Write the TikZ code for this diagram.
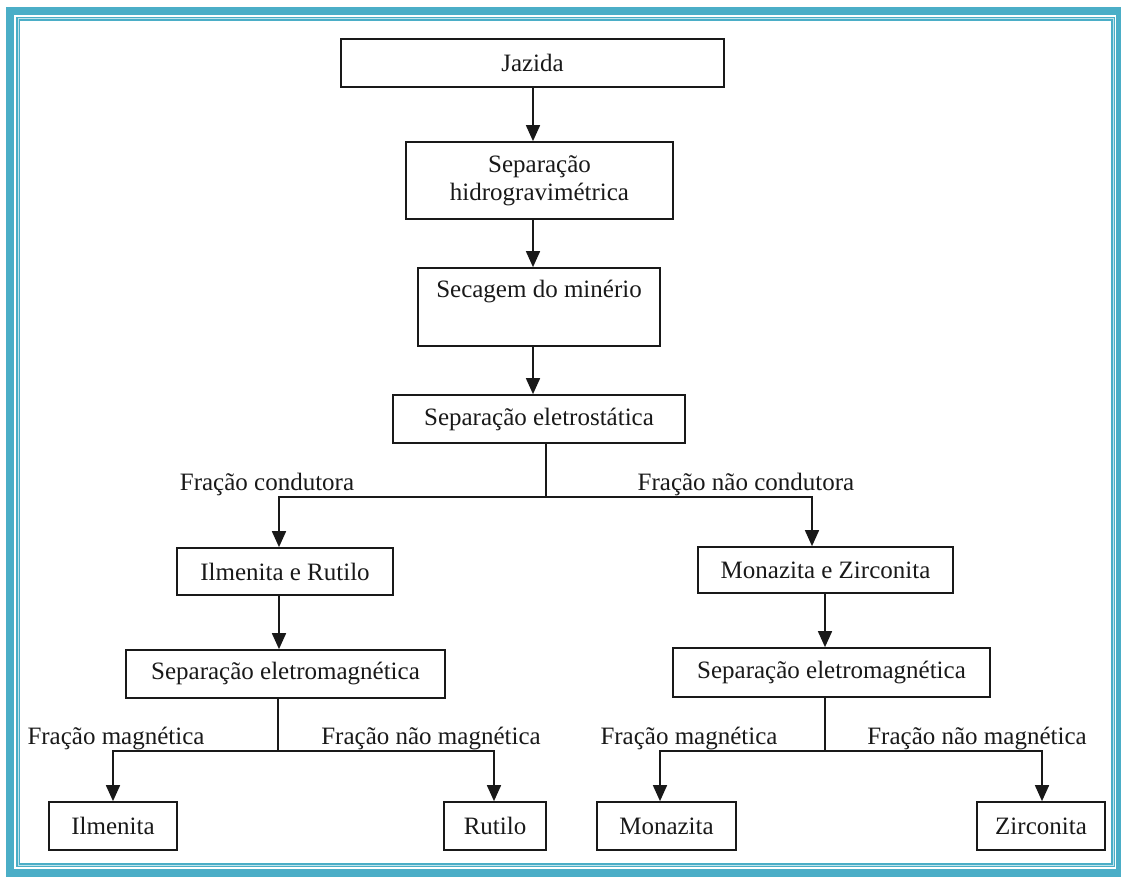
\documentclass[tikz,border=0pt]{standalone}
\usepackage{fontspec}
\setmainfont{Liberation Serif}
\usetikzlibrary{arrows.meta}
\definecolor{framecol}{RGB}{75,174,199}
\definecolor{inkcol}{RGB}{25,25,25}
\begin{document}
\begin{tikzpicture}[x=1pt,y=-1pt,
  box/.style={draw=inkcol, line width=1.7pt, rectangle, inner sep=0pt, text=inkcol,
              font=\fontsize{25}{28}\selectfont, align=center},
  arr/.style={draw=inkcol, line width=1.7pt, -{Triangle[length=16pt,width=14pt]}},
  conn/.style={draw=inkcol, line width=1.7pt},
  lbl/.style={font=\fontsize{25}{28}\selectfont, anchor=base, inner sep=0pt, text=inkcol}]
\useasboundingbox (0,0) rectangle (1121,877);
% frame
\draw[framecol, line width=8pt] (10,11) rectangle (1120,873);
\draw[framecol, line width=1.4pt, double=framecol!35, double distance=1pt] (18,19) rectangle (1113,865);

% boxes
\node[box, minimum width=383pt, minimum height=48pt] (jazida) at (532.5,63) {Jazida};
\node[box, minimum width=267pt, minimum height=77pt] (hidro) at (539.5,180.5) {Separação\\hidrogravimétrica};
\node[box, minimum width=242pt, minimum height=78pt] (secagem) at (539,307) {Secagem do minério\\\strut};
\node[box, minimum width=292pt, minimum height=48pt] (eletro) at (539,419) {Separação eletrostática};
\node[box, minimum width=216pt, minimum height=47pt] (ilr) at (285,571.5) {Ilmenita e Rutilo};
\node[box, minimum width=255pt, minimum height=46pt] (mzr) at (825.5,570) {Monazita e Zirconita};
\node[box, minimum width=319pt, minimum height=48pt] (sem1) at (285.5,674) {Separação eletromagnética};
\node[box, minimum width=317pt, minimum height=49pt] (sem2) at (831.5,672.5) {Separação eletromagnética};
\node[box, minimum width=128pt, minimum height=48pt] (ilm) at (113,826) {Ilmenita};
\node[box, minimum width=102pt, minimum height=48pt] (rut) at (495,826) {Rutilo};
\node[box, minimum width=139pt, minimum height=48pt] (mon) at (666.5,826) {Monazita};
\node[box, minimum width=128pt, minimum height=48pt] (zir) at (1041,826) {Zirconita};

% labels
\node[lbl] (lcond) at (267,490) {Fração condutora};
\node[lbl] (lncond) at (746,490) {Fração não condutora};
\node[lbl] (lmag1) at (116,744) {Fração magnética};
\node[lbl] (lnmag1) at (431,744) {Fração não magnética};
\node[lbl] (lmag2) at (689,744) {Fração magnética};
\node[lbl] (lnmag2) at (977,744) {Fração não magnética};

% columns
\coordinate (xa) at (533,0);
\coordinate (c1) at (546,497);
\coordinate (c1l) at (279,497);
\coordinate (c1r) at (812,497);
\coordinate (xb) at (279,0);
\coordinate (xc) at (825,0);
\coordinate (c2) at (278,751);
\coordinate (c2l) at (113,751);
\coordinate (c2r) at (494,751);
\coordinate (c3) at (825,751);
\coordinate (c3l) at (660,751);
\coordinate (c3r) at (1042,751);

% connectors
\draw[arr] (jazida.south -| xa) -- (hidro.north -| xa);
\draw[arr] (hidro.south -| xa) -- (secagem.north -| xa);
\draw[arr] (secagem.south -| xa) -- (eletro.north -| xa);
\draw[conn] (eletro.south -| c1) -- (c1);
\draw[arr] (c1) -| (ilr.north -| c1l);
\draw[arr] (c1) -| (mzr.north -| c1r);
\draw[arr] (ilr.south -| xb) -- (sem1.north -| xb);
\draw[arr] (mzr.south -| xc) -- (sem2.north -| xc);
\draw[conn] (sem1.south -| c2) -- (c2);
\draw[arr] (c2) -| (ilm.north -| c2l);
\draw[arr] (c2) -| (rut.north -| c2r);
\draw[conn] (sem2.south -| c3) -- (c3);
\draw[arr] (c3) -| (mon.north -| c3l);
\draw[arr] (c3) -| (zir.north -| c3r);
\end{tikzpicture}
\end{document}
